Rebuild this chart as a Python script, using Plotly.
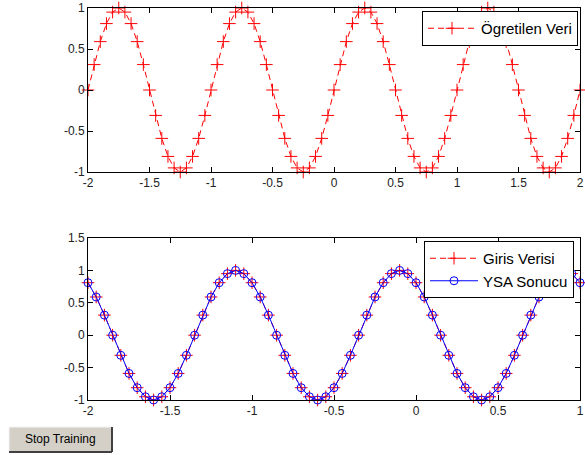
import plotly.graph_objects as go

# ---------------- data ----------------
x_top = [-2.00, -1.95, -1.90, -1.85, -1.80, -1.75, -1.70, -1.65, -1.60, -1.55,
         -1.50, -1.45, -1.40, -1.35, -1.30, -1.25, -1.20, -1.15, -1.10, -1.05,
         -1.00, -0.95, -0.90, -0.85, -0.80, -0.75, -0.70, -0.65, -0.60, -0.55,
         -0.50, -0.45, -0.40, -0.35, -0.30, -0.25, -0.20, -0.15, -0.10, -0.05,
         0.00, 0.05, 0.10, 0.15, 0.20, 0.25, 0.30, 0.35, 0.40, 0.45,
         0.50, 0.55, 0.60, 0.65, 0.70, 0.75, 0.80, 0.85, 0.90, 0.95,
         1.00, 1.05, 1.10, 1.15, 1.20, 1.25, 1.30, 1.35, 1.40, 1.45,
         1.50, 1.55, 1.60, 1.65, 1.70, 1.75, 1.80, 1.85, 1.90, 1.95,
         2.00]
ogretilen_veri = [0.00, 0.31, 0.59, 0.81, 0.95, 1.00, 0.95, 0.81, 0.59, 0.31,
                  0.00, -0.31, -0.59, -0.81, -0.95, -1.00, -0.95, -0.81, -0.59, -0.31,
                  0.00, 0.31, 0.59, 0.81, 0.95, 1.00, 0.95, 0.81, 0.59, 0.31,
                  0.00, -0.31, -0.59, -0.81, -0.95, -1.00, -0.95, -0.81, -0.59, -0.31,
                  0.00, 0.31, 0.59, 0.81, 0.95, 1.00, 0.95, 0.81, 0.59, 0.31,
                  0.00, -0.31, -0.59, -0.81, -0.95, -1.00, -0.95, -0.81, -0.59, -0.31,
                  0.00, 0.31, 0.59, 0.81, 0.95, 1.00, 0.95, 0.81, 0.59, 0.31,
                  0.00, -0.31, -0.59, -0.81, -0.95, -1.00, -0.95, -0.81, -0.59, -0.31,
                  0.00]

x_bot = [-2.00, -1.95, -1.90, -1.85, -1.80, -1.75, -1.70, -1.65, -1.60, -1.55,
         -1.50, -1.45, -1.40, -1.35, -1.30, -1.25, -1.20, -1.15, -1.10, -1.05,
         -1.00, -0.95, -0.90, -0.85, -0.80, -0.75, -0.70, -0.65, -0.60, -0.55,
         -0.50, -0.45, -0.40, -0.35, -0.30, -0.25, -0.20, -0.15, -0.10, -0.05,
         0.00, 0.05, 0.10, 0.15, 0.20, 0.25, 0.30, 0.35, 0.40, 0.45,
         0.50, 0.55, 0.60, 0.65, 0.70, 0.75, 0.80, 0.85, 0.90, 0.95,
         1.00]
giris_verisi = [0.81, 0.59, 0.31, 0.00, -0.31, -0.59, -0.81, -0.95, -1.00, -0.95,
                -0.81, -0.59, -0.31, 0.00, 0.31, 0.59, 0.81, 0.95, 1.00, 0.95,
                0.81, 0.59, 0.31, 0.00, -0.31, -0.59, -0.81, -0.95, -1.00, -0.95,
                -0.81, -0.59, -0.31, 0.00, 0.31, 0.59, 0.81, 0.95, 1.00, 0.95,
                0.81, 0.59, 0.31, 0.00, -0.31, -0.59, -0.81, -0.95, -1.00, -0.95,
                -0.81, -0.59, -0.31, 0.00, 0.31, 0.59, 0.81, 0.95, 1.00, 0.95,
                0.81]
ysa_sonucu = [0.81, 0.59, 0.31, 0.00, -0.31, -0.59, -0.81, -0.95, -1.00, -0.95,
              -0.81, -0.59, -0.31, 0.00, 0.31, 0.59, 0.81, 0.95, 1.00, 0.95,
              0.81, 0.59, 0.31, 0.00, -0.31, -0.59, -0.81, -0.95, -1.00, -0.95,
              -0.81, -0.59, -0.31, 0.00, 0.31, 0.59, 0.81, 0.95, 1.00, 0.95,
              0.81, 0.59, 0.31, 0.00, -0.31, -0.59, -0.81, -0.95, -1.00, -0.95,
              -0.81, -0.59, -0.31, 0.00, 0.31, 0.59, 0.81, 0.95, 1.00, 0.95,
              0.81]

top_xticks = [-2, -1.5, -1, -0.5, 0, 0.5, 1, 1.5, 2]
top_xlabels = ["-2", "-1.5", "-1", "-0.5", "0", "0.5", "1", "1.5", "2"]
top_yticks = [-1, -0.5, 0, 0.5, 1]
top_ylabels = ["-1", "-0.5", "0", "0.5", "1"]
bot_xticks = [-2, -1.5, -1, -0.5, 0, 0.5, 1]
bot_xlabels = ["-2", "-1.5", "-1", "-0.5", "0", "0.5", "1"]
bot_yticks = [-1, -0.5, 0, 0.5, 1, 1.5]
bot_ylabels = ["-1", "-0.5", "0", "0.5", "1", "1.5"]

# ---------------- figure ----------------
W, H = 585, 455
RED = "#ff0000"
BLUE = "#0000ff"
FONT = "Liberation Sans, Arial, sans-serif"

fig = go.Figure()

fig.add_trace(go.Scatter(
    x=x_top, y=ogretilen_veri, name="Ögretilen Veri", mode="lines+markers",
    line=dict(color=RED, width=1, dash="6px,4px"),
    marker=dict(symbol="cross-thin-open", size=9, line=dict(color=RED, width=1)),
    cliponaxis=False, xaxis="x", yaxis="y", legend="legend"))

fig.add_trace(go.Scatter(
    x=x_bot, y=giris_verisi, name="Giris Verisi", mode="lines+markers",
    line=dict(color=RED, width=1, dash="6px,4px"),
    marker=dict(symbol="cross-thin-open", size=9, line=dict(color=RED, width=1)),
    cliponaxis=False, xaxis="x2", yaxis="y2", legend="legend2"))

fig.add_trace(go.Scatter(
    x=x_bot, y=ysa_sonucu, name="YSA Sonucu", mode="lines+markers",
    line=dict(color=BLUE, width=1),
    marker=dict(symbol="circle-open", size=8, line=dict(color=BLUE, width=1)),
    cliponaxis=False, xaxis="x2", yaxis="y2", legend="legend2"))

def px_x(p):
    return p / W

def px_y(p):
    return 1 - p / H

axis_common = dict(showline=True, linecolor="black", linewidth=1, mirror="ticks",
                   ticks="inside", ticklen=5, tickcolor="black", showgrid=False,
                   zeroline=False, automargin=False, ticklabeloverflow="allow",
                   tickfont=dict(family=FONT, size=12, color="#222222"),
                   tickmode="array")

xdom = [px_x(88), px_x(580)]

fig.update_layout(
    template="none",
    width=W, height=H, margin=dict(l=0, r=0, t=0, b=0, pad=0, autoexpand=False),
    paper_bgcolor="white", plot_bgcolor="white",
    font=dict(family=FONT, size=12, color="black"),
    xaxis=dict(domain=xdom, range=[-2, 2], anchor="y",
               tickvals=top_xticks, ticktext=top_xlabels, **axis_common),
    yaxis=dict(domain=[px_y(172), px_y(8)], range=[-1, 1], anchor="x",
               tickvals=top_yticks, ticktext=top_ylabels, **axis_common),
    xaxis2=dict(domain=xdom, range=[-2, 1], anchor="y2",
                tickvals=bot_xticks, ticktext=bot_xlabels, **axis_common),
    yaxis2=dict(domain=[px_y(400), px_y(238)], range=[-1, 1.5], anchor="x2",
                tickvals=bot_yticks, ticktext=bot_ylabels, **axis_common),
    legend=dict(x=px_x(578), y=px_y(11), xanchor="right", yanchor="top",
                bgcolor="white", bordercolor="black", borderwidth=1,
                font=dict(family=FONT, size=15, color="black"),
                tracegroupgap=0, itemwidth=48),
    legend2=dict(x=px_x(574), y=px_y(241), xanchor="right", yanchor="top",
                 bgcolor="white", bordercolor="black", borderwidth=1,
                 font=dict(family=FONT, size=15, color="black"),
                 tracegroupgap=0, itemwidth=48),
    showlegend=True,
)

# "Stop Training" button
fig.add_shape(type="rect", xref="paper", yref="paper",
              x0=px_x(9), x1=px_x(112), y0=px_y(452), y1=px_y(427),
              fillcolor="#d4d0c8", line=dict(color="#f4f4f4", width=1), layer="above")
fig.add_shape(type="line", xref="paper", yref="paper",
              x0=px_x(9), x1=px_x(112), y0=px_y(452), y1=px_y(452),
              line=dict(color="#404040", width=2), layer="above")
fig.add_shape(type="line", xref="paper", yref="paper",
              x0=px_x(112), x1=px_x(112), y0=px_y(452), y1=px_y(427),
              line=dict(color="#404040", width=2), layer="above")
fig.add_annotation(x=px_x(60), y=px_y(439), xref="paper", yref="paper",
                   xanchor="center", yanchor="middle",
                   text="Stop Training", showarrow=False,
                   font=dict(family=FONT, size=12, color="black"))

# remove the browser's default 8px body margin so the figure sits at (0, 0)
fig.write_html("out.html", config={"displayModeBar": False},
               post_script="document.body.style.margin='0px';")
